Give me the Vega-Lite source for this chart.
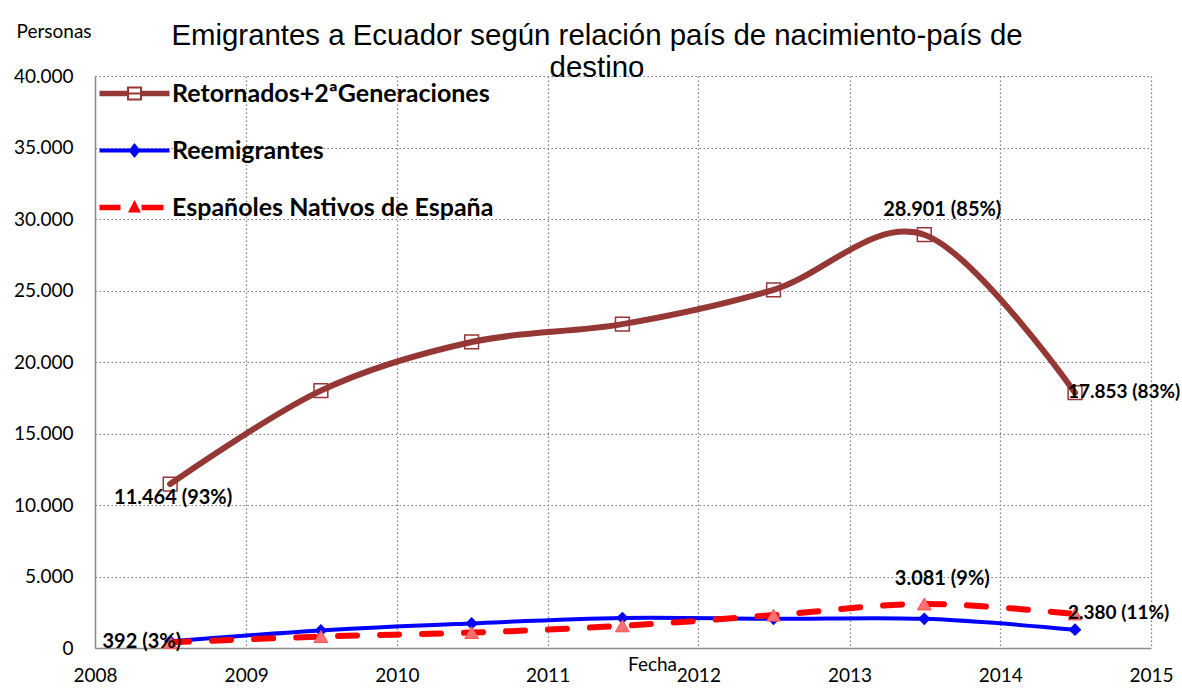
{
  "$schema": "https://vega.github.io/schema/vega-lite/v6.json",
  "width": 1056,
  "height": 572,
  "autosize": "none",
  "padding": {"left": 95, "top": 76, "right": 31, "bottom": 48},
  "background": "white",
  "title": {
    "text": ["Emigrantes a Ecuador según relación país de nacimiento-país de", "destino"],
    "font": "Liberation Sans",
    "fontSize": 29.4,
    "fontWeight": "normal",
    "color": "black",
    "anchor": "middle",
    "dx": -26,
    "dy": 57,
    "offset": -4,
    "lineHeight": 32
  },
  "config": {
    "view": {"stroke": null},
    "locale": {"number": {"decimal": ",", "thousands": ".", "grouping": [3], "currency": ["", " €"]}}
  },
  "data": {
    "values": [
      {"fecha": "2008-07-01", "serie": "Retornados+2ªGeneraciones", "valor": 11464, "etiqueta": "11.464 (93%)"},
      {"fecha": "2009-07-01", "serie": "Retornados+2ªGeneraciones", "valor": 18000, "etiqueta": ""},
      {"fecha": "2010-07-01", "serie": "Retornados+2ªGeneraciones", "valor": 21400, "etiqueta": ""},
      {"fecha": "2011-07-01", "serie": "Retornados+2ªGeneraciones", "valor": 22650, "etiqueta": ""},
      {"fecha": "2012-07-01", "serie": "Retornados+2ªGeneraciones", "valor": 25050, "etiqueta": ""},
      {"fecha": "2013-07-01", "serie": "Retornados+2ªGeneraciones", "valor": 28901, "etiqueta": "28.901 (85%)"},
      {"fecha": "2014-07-01", "serie": "Retornados+2ªGeneraciones", "valor": 17853, "etiqueta": "17.853 (83%)"},
      {"fecha": "2008-07-01", "serie": "Reemigrantes", "valor": 470, "etiqueta": ""},
      {"fecha": "2009-07-01", "serie": "Reemigrantes", "valor": 1230, "etiqueta": ""},
      {"fecha": "2010-07-01", "serie": "Reemigrantes", "valor": 1720, "etiqueta": ""},
      {"fecha": "2011-07-01", "serie": "Reemigrantes", "valor": 2100, "etiqueta": ""},
      {"fecha": "2012-07-01", "serie": "Reemigrantes", "valor": 2040, "etiqueta": ""},
      {"fecha": "2013-07-01", "serie": "Reemigrantes", "valor": 2040, "etiqueta": ""},
      {"fecha": "2014-07-01", "serie": "Reemigrantes", "valor": 1280, "etiqueta": ""},
      {"fecha": "2008-07-01", "serie": "Españoles Nativos de España", "valor": 392, "etiqueta": "392 (3%)"},
      {"fecha": "2009-07-01", "serie": "Españoles Nativos de España", "valor": 800, "etiqueta": ""},
      {"fecha": "2010-07-01", "serie": "Españoles Nativos de España", "valor": 1080, "etiqueta": ""},
      {"fecha": "2011-07-01", "serie": "Españoles Nativos de España", "valor": 1550, "etiqueta": ""},
      {"fecha": "2012-07-01", "serie": "Españoles Nativos de España", "valor": 2300, "etiqueta": ""},
      {"fecha": "2013-07-01", "serie": "Españoles Nativos de España", "valor": 3081, "etiqueta": "3.081 (9%)"},
      {"fecha": "2014-07-01", "serie": "Españoles Nativos de España", "valor": 2380, "etiqueta": "2.380 (11%)"}
    ],
    "format": {"parse": {"fecha": "utc:'%Y-%m-%d'"}}
  },
  "encoding": {
    "x": {
      "field": "fecha",
      "type": "temporal",
      "scale": {"type": "utc", "domain": [{"year": 2008, "utc": true}, {"year": 2015, "utc": true}]},
      "axis": {
        "values": [
          {"year": 2008, "utc": true}, {"year": 2009, "utc": true}, {"year": 2010, "utc": true},
          {"year": 2011, "utc": true}, {"year": 2012, "utc": true}, {"year": 2013, "utc": true},
          {"year": 2014, "utc": true}, {"year": 2015, "utc": true}
        ],
        "format": "%Y",
        "grid": true,
        "gridDash": [1.5, 2.5],
        "gridColor": "#7a7a7a",
        "gridWidth": 1.2,
        "ticks": false,
        "labelPadding": 18,
        "labelFont": "Lato",
        "labelFontSize": 19,
        "labelColor": "black",
        "labelFlush": false,
        "labelOverlap": false,
        "domainColor": "#8a8a8a",
        "domainWidth": 1.5,
        "title": "Fecha",
        "titleX": 557,
        "titleY": 16,
        "titleAlign": "center",
        "titleBaseline": "middle",
        "titleFont": "Lato",
        "titleFontSize": 19,
        "titleFontWeight": "normal",
        "titleColor": "black"
      }
    },
    "y": {
      "field": "valor",
      "type": "quantitative",
      "scale": {"domain": [0, 40000]},
      "axis": {
        "values": [0, 5000, 10000, 15000, 20000, 25000, 30000, 35000, 40000],
        "format": ",d",
        "grid": true,
        "gridDash": [1.5, 2.5],
        "gridColor": "#7a7a7a",
        "gridWidth": 1.2,
        "ticks": false,
        "labelPadding": 22,
        "labelFont": "Lato",
        "labelFontSize": 19,
        "labelColor": "black",
        "labelFlush": false,
        "domainColor": "#8a8a8a",
        "domainWidth": 1.5,
        "title": "Personas",
        "titleAngle": 0,
        "titleX": -79,
        "titleY": -45,
        "titleAlign": "left",
        "titleBaseline": "middle",
        "titleFont": "Lato",
        "titleFontSize": 19,
        "titleFontWeight": "normal",
        "titleColor": "black"
      }
    }
  },
  "layer": [
    {
      "transform": [{"filter": "datum.serie === 'Retornados+2ªGeneraciones'"}],
      "mark": {"type": "line", "interpolate": "cardinal", "strokeWidth": 6, "strokeCap": "round", "strokeJoin": "round"},
      "encoding": {
        "color": {
          "field": "serie",
          "type": "nominal",
          "scale": {
            "domain": ["Retornados+2ªGeneraciones", "Reemigrantes", "Españoles Nativos de España"],
            "range": ["#953735", "#0000FF", "#FF0000"]
          },
          "legend": {
            "orient": "none",
            "legendX": 27,
            "legendY": 5,
            "direction": "vertical",
            "title": null,
            "padding": 0,
            "symbolSize": 400,
            "symbolStrokeWidth": 0,
            "labelOffset": 25,
            "rowPadding": 31,
            "labelFont": "Lato",
            "labelFontSize": 25,
            "labelFontWeight": "bold",
            "labelColor": "black",
            "labelLimit": 0,
            "encode": {
              "symbols": {
                "update": {
                  "shape": {"signal": "datum.value === 'Retornados+2ªGeneraciones' ? 'M-3.5,-0.28H-0.7V0.28H-3.5Z M0.7,-0.28H3.5V0.28H0.7Z M-0.75,-0.7H0.75V0.7H-0.75Z M-0.55,-0.5V0.5H0.55V-0.5Z M-0.55,-0.1H0.55V0.1H-0.55Z' : datum.value === 'Reemigrantes' ? 'M-3.5,-0.2H3.5V0.2H-3.5Z M0,-0.75L0.6,0L0,0.75L-0.6,0Z' : 'M-3.5,-0.27H-1.4V0.27H-3.5Z M0.7,-0.27H2.9V0.27H0.7Z M0,-0.75L0.65,0.5L-0.65,0.5Z'"},
                  "fill": {"signal": "scale('color', datum.value)"},
                  "fillOpacity": {"value": 1},
                  "stroke": {"value": "transparent"},
                  "strokeWidth": {"value": 0},
                  "opacity": {"value": 1}
                }
              }
            }
          }
        }
      }
    },
    {
      "transform": [{"filter": "datum.serie === 'Retornados+2ªGeneraciones'"}],
      "mark": {"type": "point", "shape": "square", "size": 190, "filled": false, "stroke": "#953735", "strokeWidth": 1.5, "opacity": 1}
    },
    {
      "transform": [{"filter": "datum.serie === 'Reemigrantes'"}],
      "mark": {"type": "line", "interpolate": "cardinal", "strokeWidth": 4, "strokeCap": "round", "strokeJoin": "round"},
      "encoding": {
        "color": {
          "field": "serie",
          "type": "nominal",
          "scale": {
            "domain": ["Retornados+2ªGeneraciones", "Reemigrantes", "Españoles Nativos de España"],
            "range": ["#953735", "#0000FF", "#FF0000"]
          },
          "legend": null
        }
      }
    },
    {
      "transform": [{"filter": "datum.serie === 'Reemigrantes'"}],
      "mark": {"type": "point", "shape": "diamond", "size": 160, "filled": true, "color": "#0000FF", "opacity": 1}
    },
    {
      "transform": [{"filter": "datum.serie === 'Españoles Nativos de España'"}],
      "mark": {"type": "line", "interpolate": "cardinal", "strokeWidth": 6, "strokeDash": [19, 23], "strokeCap": "round", "strokeJoin": "round"},
      "encoding": {
        "color": {
          "field": "serie",
          "type": "nominal",
          "scale": {
            "domain": ["Retornados+2ªGeneraciones", "Reemigrantes", "Españoles Nativos de España"],
            "range": ["#953735", "#0000FF", "#FF0000"]
          },
          "legend": null
        }
      }
    },
    {
      "transform": [{"filter": "datum.serie === 'Españoles Nativos de España'"}],
      "mark": {"type": "point", "shape": "triangle-up", "size": 190, "filled": true, "fill": "#FF7070", "stroke": "#FF5050", "strokeWidth": 1, "opacity": 1}
    },
    {
      "transform": [{"filter": "datum.etiqueta === '11.464 (93%)'"}],
      "mark": {"type": "text", "font": "Lato", "fontSize": 20, "fontWeight": "bold", "color": "black", "align": "center", "baseline": "middle", "dx": 3, "dy": 14},
      "encoding": {"text": {"field": "etiqueta", "type": "nominal"}}
    },
    {
      "transform": [{"filter": "datum.etiqueta === '28.901 (85%)' || datum.etiqueta === '3.081 (9%)'"}],
      "mark": {"type": "text", "font": "Lato", "fontSize": 20, "fontWeight": "bold", "color": "black", "align": "center", "baseline": "middle", "dx": 18, "dy": -25},
      "encoding": {"text": {"field": "etiqueta", "type": "nominal"}}
    },
    {
      "transform": [{"filter": "datum.etiqueta === '17.853 (83%)' || datum.etiqueta === '2.380 (11%)'"}],
      "mark": {"type": "text", "font": "Lato", "fontSize": 19, "fontWeight": "bold", "color": "black", "align": "left", "baseline": "middle", "dx": -7, "dy": -1},
      "encoding": {"text": {"field": "etiqueta", "type": "nominal"}}
    },
    {
      "transform": [{"filter": "datum.etiqueta === '392 (3%)'"}],
      "mark": {"type": "text", "font": "Lato", "fontSize": 20, "fontWeight": "bold", "color": "black", "align": "right", "baseline": "middle", "dx": 11, "dy": 0},
      "encoding": {"text": {"field": "etiqueta", "type": "nominal"}}
    }
  ]
}
